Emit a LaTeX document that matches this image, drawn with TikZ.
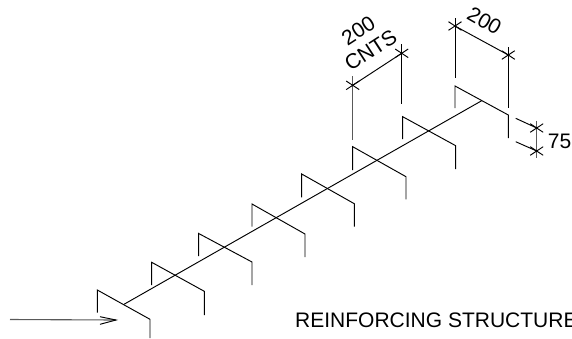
\documentclass[tikz,border=0pt]{standalone}
\usepackage{fontspec}
\setmainfont{Liberation Sans}
\tikzset{
  ln/.style={draw=black,line width=0.95pt},
  ext/.style={draw=black!65,line width=1.1pt},
  lbl/.style={inner sep=0pt,font=\fontsize{21}{22}\selectfont,text=black},
}
% frame: name, left x, left top y, left bottom y, right x, right top y, right bottom y, centre x, centre y
\newcommand{\frm}[9]{%
  \coordinate (#1a) at (#2,#3); \coordinate (#1b) at (#2,#4);
  \coordinate (#1c) at (#5,#6); \coordinate (#1d) at (#5,#7);
  \draw[ln] (#1b) -- (#1a) -- (#1c) -- (#1d);
  \coordinate (#1m) at (#8,#9);
}
\newcommand{\tick}[1]{%
  \draw[ln] ([shift={(-6.5,4.3)}]#1) -- ([shift={(6.5,-4.3)}]#1);
  \draw[ln] ([shift={(-6.5,-4.3)}]#1) -- ([shift={(6.5,4.3)}]#1);
  \fill[black] (#1) circle (1pt);
}
\begin{document}
\begin{tikzpicture}[x=1pt,y=-1pt]
\useasboundingbox (0,0) rectangle (572,338);
\frm{f1}{97.3}{290}{312.7}{150}{319.3}{338}{124}{304.3}
\frm{f2}{151.7}{262.3}{285}{204.3}{291.3}{315}{175.3}{275.3}
\frm{f3}{198.7}{233.5}{256}{252}{262}{285}{224}{247.5}
\frm{f4}{252}{204}{226.7}{305}{234}{257}{276.7}{217.7}
\frm{f5}{301.7}{174}{197.3}{354.3}{203.7}{226.7}{327.3}{189}
\frm{f6}{352.7}{146.7}{170}{406}{176.7}{199.3}{377.3}{160.7}
\frm{f7}{402.7}{116.7}{139}{455.7}{145.7}{169}{428.3}{131}
\frm{f8}{455}{86}{108}{508.3}{115}{138}{481.7}{100.7}
\draw[ln] (f1m) -- (f8m);
% arrow
\coordinate (as) at (10,319.5); \coordinate (ae) at (116,320);
\coordinate (ah1) at (100,316.7); \coordinate (ah2) at (100,324.3);
\draw[ext] (as) -- (ae);
\draw[ln] (ah1) -- (ae) -- (ah2);
% dim left
\coordinate (d1) at (352.7,85.3); \coordinate (d2) at (401.7,53.3);
\coordinate (e1a) at (352.7,76); \coordinate (e1b) at (352.7,140);
\coordinate (e2a) at (401.7,44); \coordinate (e2b) at (401.7,104.3);
\draw[ext] (e1a) -- (e1b);
\draw[ln] (e2a) -- (e2b);
\draw[ln] (d1) -- (d2);
\tick{d1} \tick{d2}
% dim right
\coordinate (d3) at (455,26); \coordinate (d4) at (508.3,55);
\coordinate (e3a) at (455,18.3); \coordinate (e3b) at (455,78.3);
\coordinate (e4a) at (508.3,47.3); \coordinate (e4b) at (508.3,108.3);
\draw[ln] (e3a) -- (e3b);
\draw[ln] (e4a) -- (e4b);
\draw[ln] (d3) -- (d4);
\tick{d3} \tick{d4}
% dim 75
\coordinate (d5) at (536.7,128); \coordinate (d6) at (536.7,151);
\coordinate (e5a) at (536.7,120.7); \coordinate (e5b) at (536.7,158.3);
\coordinate (e6) at (515.7,118.3); \coordinate (e7) at (515.7,141.7);
\draw[ext] (e5a) -- (e5b);
\draw[ln] (e6) -- (d5);
\draw[ln] (e7) -- (d6);
\tick{d5} \tick{d6}
\node[lbl] (t1) at (559.5,141.7) {75};
\node[lbl,rotate=-30] (t2) at (484.5,20.7) {200};
\node[lbl,rotate=33] (t3) at (358.3,30.7) {200};
\node[lbl,rotate=33] (t4) at (370.7,50) {CNTS};
\node[lbl,anchor=base west] (t5) at (295,327) {REINFORCING STRUCTURE};
\end{tikzpicture}
\end{document}
